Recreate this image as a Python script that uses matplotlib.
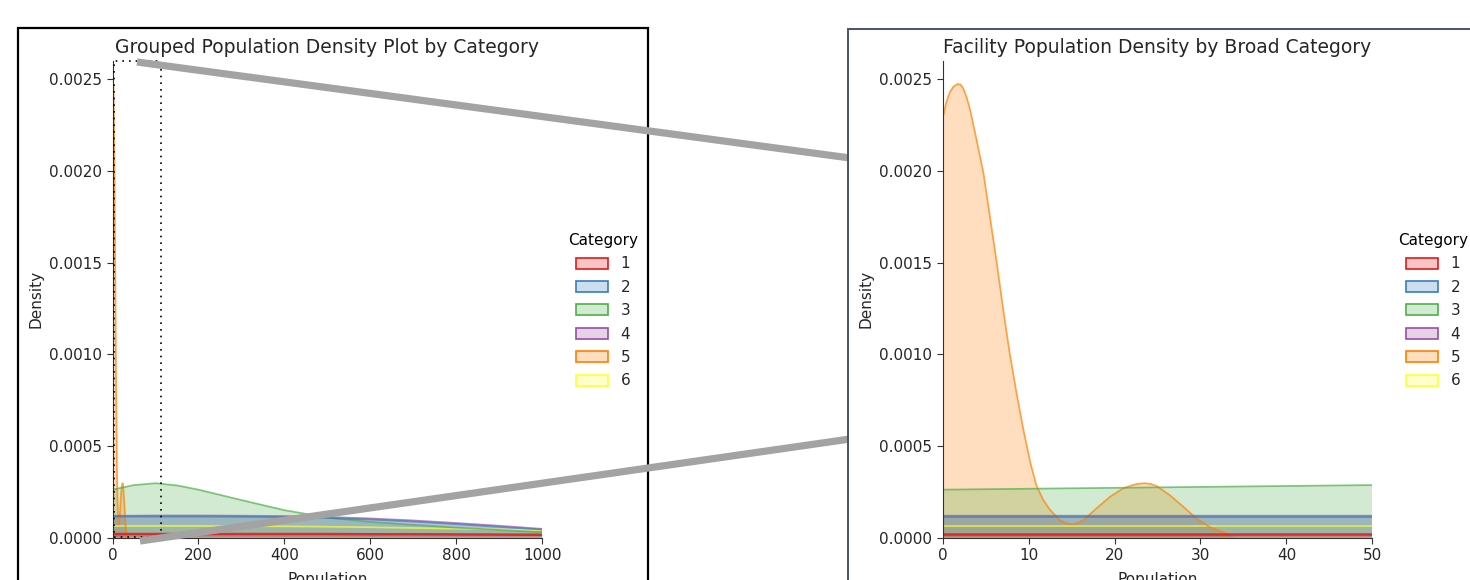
import matplotlib
matplotlib.use("Agg")
import matplotlib.pyplot as plt
from matplotlib.patches import Rectangle, Patch
from matplotlib.lines import Line2D

W, H = 1470, 580

# ---------------- data ----------------
categories = ["1", "2", "3", "4", "5", "6"]
colors = ["#e41a1c", "#377eb8", "#4daf4a", "#984ea3", "#ff7f00", "#ffff33"]

# broad grid used for categories 1, 2, 3, 4, 6
pop_broad = [0, 50, 100, 150, 200, 300, 400, 500, 600, 700, 800, 900, 1000]
dens_cat1 = [0.000020, 0.000020, 0.000020, 0.000020, 0.000020, 0.000020, 0.000020,
             0.000020, 0.000019, 0.000019, 0.000018, 0.000017, 0.000016]
dens_cat2 = [0.000115, 0.000115, 0.000115, 0.000115, 0.000115, 0.000114, 0.000112,
             0.000107, 0.000099, 0.000088, 0.000074, 0.000059, 0.000044]
dens_cat3 = [0.000262, 0.000287, 0.000297, 0.000285, 0.000262, 0.000205, 0.000150,
             0.000110, 0.000086, 0.000070, 0.000055, 0.000042, 0.000030]
dens_cat4 = [0.000120, 0.000120, 0.000121, 0.000121, 0.000121, 0.000120, 0.000118,
             0.000113, 0.000105, 0.000094, 0.000080, 0.000065, 0.000048]
dens_cat6 = [0.000064, 0.000064, 0.000064, 0.000064, 0.000064, 0.000063, 0.000062,
             0.000060, 0.000057, 0.000053, 0.000049, 0.000045, 0.000041]

# finer grid for category 5 (only spans 0 - 34)
pop_cat5 = [0, 0.4, 0.85, 1.25, 1.7, 2.05, 2.4, 2.8, 3.2, 3.95, 4.75, 5.5, 6.3,
            7.05, 7.8, 8.6, 9.4, 10.2, 10.9, 11.7, 12.5, 13.6, 14.3, 15.0, 15.7,
            16.4, 17.9, 19.5, 21.0, 22.0, 22.6, 23.5, 24.2, 24.9, 26.4, 28.0,
            29.5, 31.1, 32.6, 33.8]
dens_cat5 = [0.002287, 0.002372, 0.002432, 0.002460, 0.002474, 0.002472, 0.002450,
             0.002400, 0.002332, 0.002168, 0.001987, 0.001750, 0.001496, 0.001242,
             0.001005, 0.000787, 0.000587, 0.000410, 0.000285, 0.000206, 0.000151,
             0.000097, 0.000080, 0.000073, 0.000080, 0.000097, 0.000160, 0.000224,
             0.000269, 0.000285, 0.000293, 0.000297, 0.000293, 0.000282, 0.000233,
             0.000169, 0.000106, 0.000057, 0.000030, 0.000012]

series_x = [pop_broad, pop_broad, pop_broad, pop_broad, pop_cat5, pop_broad]
series_y = [dens_cat1, dens_cat2, dens_cat3, dens_cat4, dens_cat5, dens_cat6]

titles = ["Grouped Population Density Plot by Category",
          "Facility Population Density by Broad Category"]
xticks_left = [0, 200, 400, 600, 800, 1000]
xticks_right = [0, 10, 20, 30, 40, 50]
yticks = [0.0, 0.0005, 0.0010, 0.0015, 0.0020, 0.0025]

# ---------------- layout helpers ----------------
def fx(x):
    return x / W

def fy(y):
    return 1 - y / H

FS = 11
TXT = "#262626"
plt.rcParams["font.family"] = ["DejaVu Sans"]

fig = plt.figure(figsize=(W / 100, H / 100), dpi=100)
fig.patch.set_facecolor("white")

ax_top, ax_bot = 61, 537.7
axL = fig.add_axes([fx(112.5), fy(ax_bot), fx(542.3) - fx(112.5), fy(ax_top) - fy(ax_bot)], zorder=0)
axR = fig.add_axes([fx(942.7), fy(ax_bot), fx(1372.3) - fx(942.7), fy(ax_top) - fy(ax_bot)], zorder=4)
axR.set_facecolor("none")


def draw(ax, title, xlim, xticks):
    # seaborn-like layering: last category drawn first
    for i in reversed(range(len(categories))):
        ax.fill_between(series_x[i], series_y[i], 0, facecolor=colors[i], alpha=0.25,
                        edgecolor="none")
        ax.plot(series_x[i], series_y[i], color=colors[i],
                lw=1.8 if i == 0 else 1.25, alpha=0.85 if i == 0 else 0.7,
                solid_joinstyle="round")
    ax.set_xlim(*xlim)
    ax.set_ylim(0, 0.0026)
    ax.set_xticks(xticks)
    ax.set_yticks(yticks)
    ax.set_yticklabels([f"{v:.4f}" for v in yticks])
    ax.tick_params(labelsize=FS, length=4, color="#333333", labelcolor=TXT)
    for s in ("top", "right"):
        ax.spines[s].set_visible(False)
    for s in ("left", "bottom"):
        ax.spines[s].set_color("#333333")
    ax.set_xlabel("Population", fontsize=FS, color=TXT, labelpad=6.5)
    ax.set_ylabel("Density", fontsize=FS, color=TXT)
    ax.set_title(title, fontsize=13.5, color=TXT)


draw(axL, titles[0], (0, 1000), xticks_left)
draw(axR, titles[1], (0, 50), xticks_right)

# ---------------- legends ----------------
handles = [Patch(facecolor=(*matplotlib.colors.to_rgb(c), 0.25), edgecolor=c, lw=1.2)
           for c in colors]
for lx in (568, 1398):
    fig.legend(handles, categories, title="Category", loc="upper left",
               bbox_to_anchor=(fx(lx), fy(233)), bbox_transform=fig.transFigure,
               frameon=False, fontsize=FS, title_fontsize=FS, borderpad=0,
               borderaxespad=0, handlelength=2.1, handleheight=0.72,
               labelspacing=0.55, handletextpad=0.85, labelcolor=TXT)

# ---------------- decorations: frames, zoom box, connectors ----------------
fig.patches.append(Rectangle((fx(18), fy(600)), fx(648) - fx(18), fy(28) - fy(600),
                             transform=fig.transFigure, fill=False, edgecolor="black",
                             lw=1.6, zorder=1))
fig.patches.append(Rectangle((fx(113.5), fy(537)), fx(161) - fx(113.5), fy(61) - fy(537),
                             transform=fig.transFigure, fill=False, edgecolor="black",
                             lw=1.2, linestyle=(0, (1, 3)), zorder=1.5))
for (x0, y0), (x1, y1) in [((137, 62), (850, 158)), ((140, 541), (850, 439))]:
    fig.lines.append(Line2D([fx(x0), fx(x1)], [fy(y0), fy(y1)], transform=fig.transFigure,
                            color="#a3a3a3", lw=5.2, solid_capstyle="butt", zorder=2))
fig.patches.append(Rectangle((fx(848), fy(600)), fx(1500) - fx(848), fy(29) - fy(600),
                             transform=fig.transFigure, facecolor="white", edgecolor="#44546a",
                             lw=1.4, zorder=3))

fig.savefig("out.png", dpi=100)
